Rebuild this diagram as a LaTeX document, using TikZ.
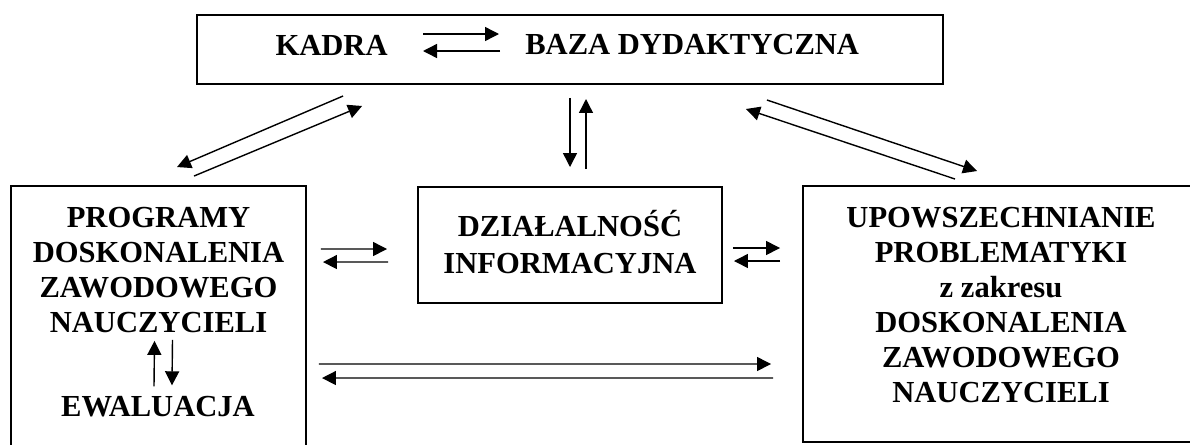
\documentclass[tikz,border=0pt]{standalone}
\usepackage{fontspec}
\setmainfont{Liberation Serif}
\usetikzlibrary{arrows.meta}

\begin{document}
\begin{tikzpicture}[x=0.02cm,y=-0.02cm,
  box/.style={draw=cb,line width=1.3pt,inner sep=0pt,outer sep=0pt},
  txt/.style={text=ct,inner sep=0pt,align=center,font=\fontsize{17.4}{19.84}\selectfont\bfseries},
  arr/.style={draw=ca,line width=0.8pt,-{Triangle[length=0.28cm,width=0.28cm]}}]
\definecolor{cb}{rgb}{0.0,0.0,0.0}
\definecolor{ct}{rgb}{0.0,0.0,0.0}
\definecolor{ca}{rgb}{0.0,0.0,0.0}
%
\useasboundingbox (0,0) rectangle (1190,444);
\clip (0,0) rectangle (1190,444);
%
\node[box,minimum width=14.92cm,minimum height=1.38cm] (topbox) at (570,49.5) {};
\node[box,minimum width=5.9cm,minimum height=5.68cm] (progbox) at (158.5,328) {};
\node[box,minimum width=6.08cm,minimum height=2.32cm] (infobox) at (570,245) {};
\node[box,minimum width=7.94cm,minimum height=5.12cm] (upowbox) at (1001.5,314) {};
%
\node[txt,anchor=east] (kadra) at (388,45) {KADRA};
\node[txt,anchor=west] (baza) at (525,45) {BAZA DYDAKTYCZNA};
\node[txt] (progtxt) at (158.5,270) {PROGRAMY\\DOSKONALENIA\\ZAWODOWEGO\\NAUCZYCIELI};
\node[txt] (ewal) at (158,407) {EWALUACJA};
\node[txt] (infotxt) at (570,242) {DZIAŁALNOŚĆ\\[1pt]INFORMACYJNA};
\node[txt] (upowtxt) at (1001,305) {UPOWSZECHNIANIE\\PROBLEMATYKI\\z zakresu\\DOSKONALENIA\\ZAWODOWEGO\\NAUCZYCIELI};
%
\draw[arr] ([shift={(35,-11)}]kadra.east) -- ([shift={(-26,-11)}]baza.west);
\draw[arr] ([shift={(-25,6)}]baza.west) -- ([shift={(35,6)}]kadra.east);
\draw[arr] ([shift={(-4,-10)}]ewal.north) -- ([shift={(-4,8)}]progtxt.south);
\draw[arr] ([shift={(14,7)}]progtxt.south) -- ([shift={(14,-11)}]ewal.north);
%
\draw[arr] ([shift={(146,12)}]topbox.south west) -- ([shift={(18.5,-19)}]progbox.north);
\draw[arr] ([shift={(35.5,-10)}]progbox.north) -- ([shift={(165,22)}]topbox.south west);
\draw[arr] ([shift={(0,14)}]topbox.south) -- ([shift={(0,-20)}]infobox.north);
\draw[arr] ([shift={(16,-18)}]infobox.north) -- ([shift={(16,15)}]topbox.south);
\draw[arr] ([shift={(-176,16)}]topbox.south east) -- ([shift={(174,-15)}]upowbox.north west);
\draw[arr] ([shift={(152,-7)}]upowbox.north west) -- ([shift={(-197,25)}]topbox.south east);
%
\draw[arr] ([shift={(15,63)}]progbox.north east) -- ([shift={(-31,4)}]infobox.west);
\draw[arr] ([shift={(-30,17)}]infobox.west) -- ([shift={(17,76)}]progbox.north east);
\draw[arr] ([shift={(11,3)}]infobox.east) -- ([shift={(-23,-66)}]upowbox.west);
\draw[arr] ([shift={(-23,-53)}]upowbox.west) -- ([shift={(12,16)}]infobox.east);
\draw[arr] ([shift={(13,178)}]progbox.north east) -- ([shift={(-32,50)}]upowbox.west);
\draw[arr] ([shift={(-30,64)}]upowbox.west) -- ([shift={(16,192)}]progbox.north east);
%
\end{tikzpicture}
\end{document}
